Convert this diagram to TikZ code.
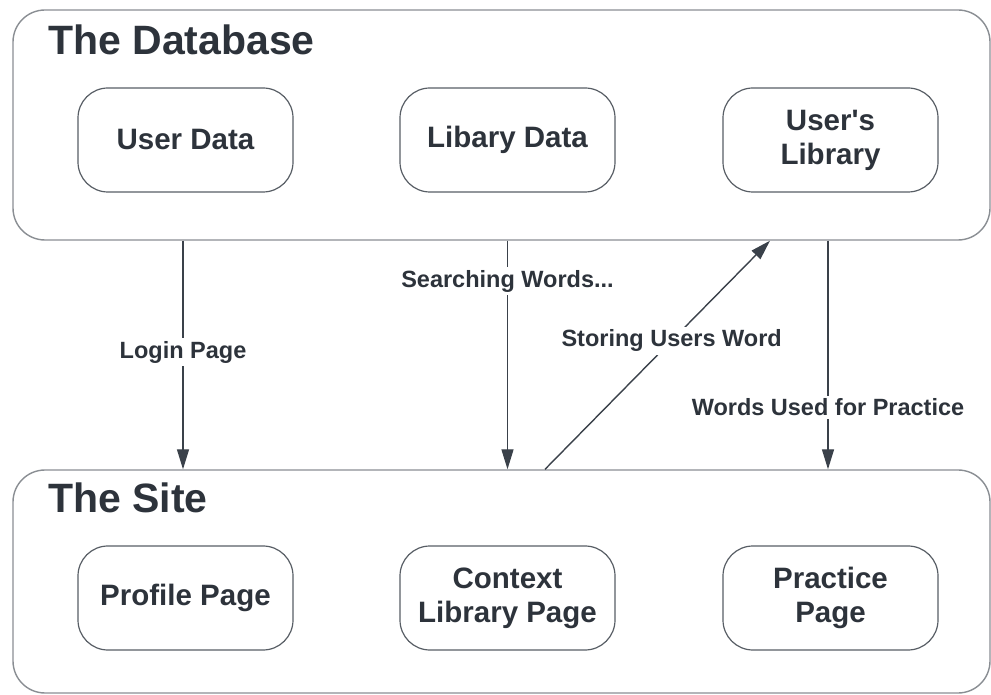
\documentclass[tikz,border=0pt]{standalone}
\usepackage{fontspec}
\setmainfont{Liberation Sans}
\usetikzlibrary{arrows.meta}

\definecolor{ink}{HTML}{2D333B}
\definecolor{frame}{HTML}{8A8E93}
\definecolor{edge}{HTML}{3A414A}

\begin{document}
\begin{tikzpicture}[x=1pt,y=1pt,
  container/.style={draw=frame, line width=1.4pt, rounded corners=32pt,
    minimum width=977pt, inner sep=0pt},
  item/.style={draw=edge!85, line width=1.2pt, rounded corners=30pt,
    minimum width=215pt, minimum height=104pt, align=center,
    font=\fontsize{29.5}{34}\selectfont\bfseries, text=ink},
  title/.style={font=\fontsize{41}{46}\selectfont\bfseries, text=ink,
    anchor=base west, inner sep=0pt},
  flow/.style={draw=edge, line width=1.4pt, -{Triangle[length=20pt,width=12pt]}},
  tag/.style={fill=white, font=\fontsize{23.5}{27}\selectfont\bfseries,
    text=ink, inner sep=3pt}
]
\useasboundingbox (0,0) rectangle (991,694);

% the two layers
\node[container, minimum height=230pt] (db) at (501.5,569) {};
\node[container, minimum height=223pt] (site) at (501.5,112.5) {};

\node[title] (dbtitle) at (48,639) {The Database};
\node[title] (sitetitle) at (48,181) {The Site};

% database contents
\node[item] (ud)   at (185.5,554) {User Data};
\node[item] (ld)   at (507.5,554) {Libary Data};
\node[item] (ulib) at (830.5,554) {User\textquotesingle s\\Library};

% site pages
\node[item] (pp) at (185.5,96) {Profile Page};
\node[item] (cl) at (507.5,96) {Context\\Library Page};
\node[item] (pr) at (830.5,96) {Practice\\Page};

% data flows between the layers
\draw[flow] ([xshift=-2.5pt]db.south -| ud) --
  node[tag, pos=0.487] (t1) {Login Page} ([xshift=-2.5pt]site.north -| ud);
\draw[flow] (db.south -| ld) --
  node[tag, pos=0.178] (t2) {Searching Words...} (site.north -| ld);
\draw[flow] ([xshift=37.5pt]site.north -| cl) --
  node[tag, pos=0.563] (t3) {Storing Users Word} ([xshift=-60.5pt]db.south -| ulib);
\draw[flow] ([xshift=-2.5pt]db.south -| ulib) --
  node[tag, pos=0.73] (t4) {Words Used for Practice} ([xshift=-2.5pt]site.north -| pr);
\end{tikzpicture}
\end{document}
